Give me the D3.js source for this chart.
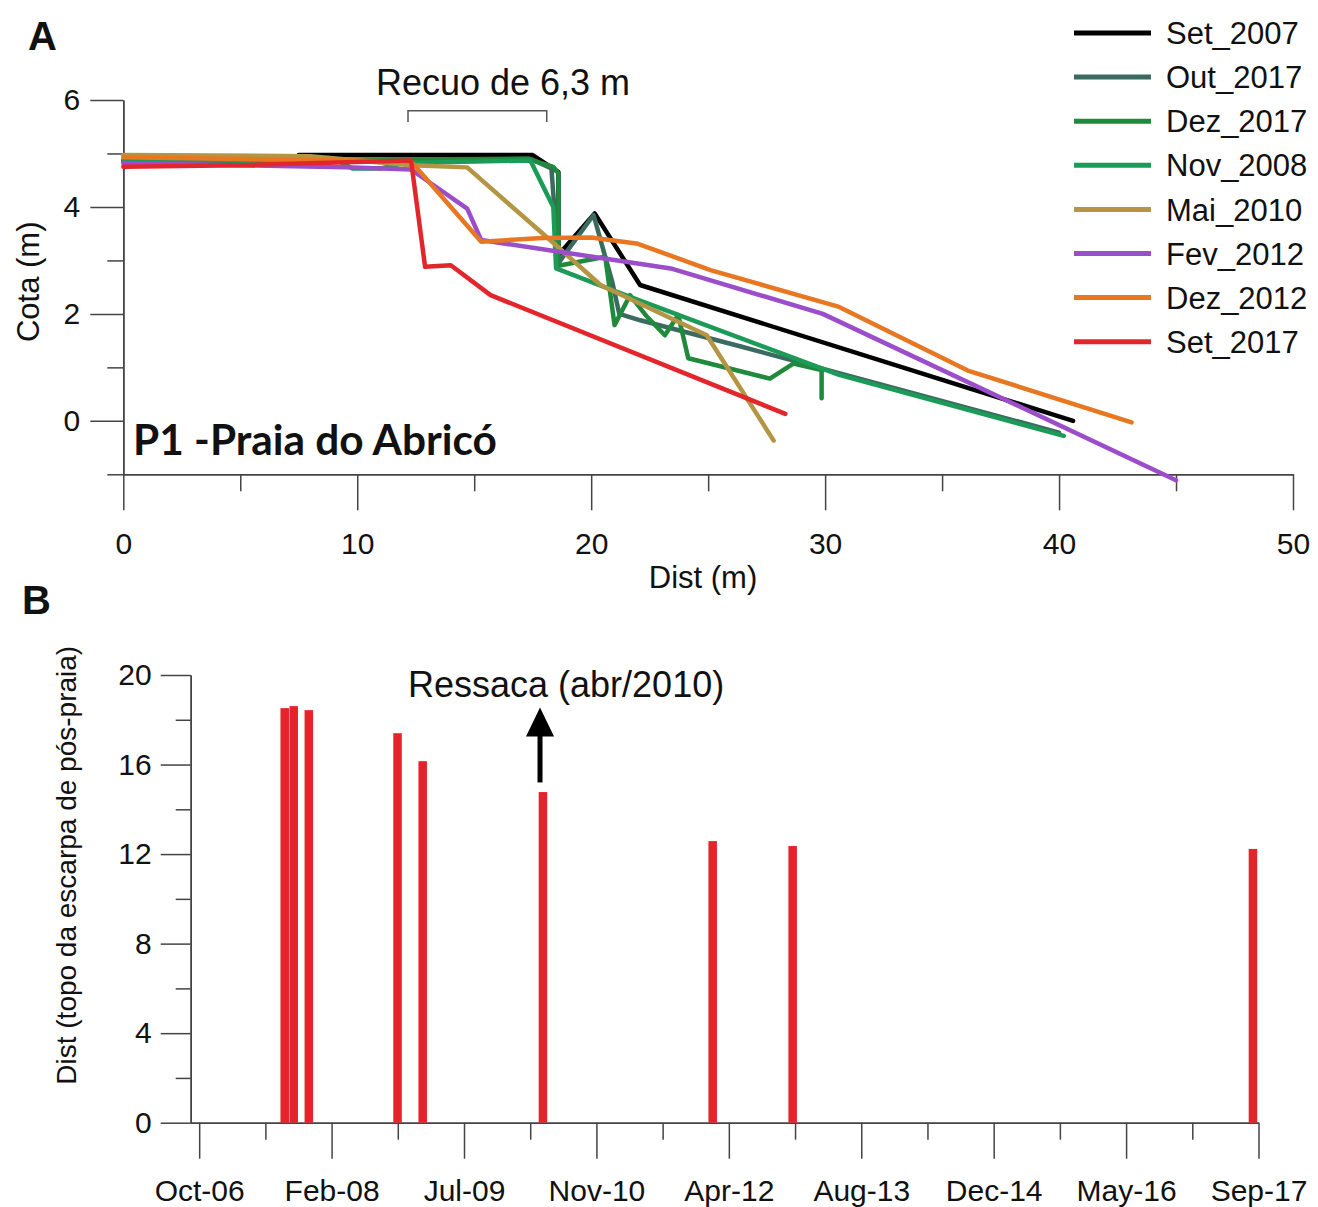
<!DOCTYPE html>
<html>
<head>
<meta charset="utf-8">
<script src="https://cdn.jsdelivr.net/npm/d3@7"></script>
<style>
  body { margin: 0; background: #fff; }
  svg { display: block; }
  text { font-family: "Liberation Sans", Arial, sans-serif; fill: #111; }
</style>
</head>
<body>
<script>
// ---- Panel A : beach profiles (dist m, cota m) ----
const set2007 = [[7.5,4.97],[17.5,4.97],[18.6,4.65],[18.6,3.1],[20.15,3.88],[22.09,2.54],[40.6,0.0]];
const out2017 = [[0,4.85],[17.4,4.9],[18.3,4.72],[18.6,2.95],[20.1,3.85],[20.9,2.6],[21.2,2.0],[22.1,1.88],[26.4,1.39],[40.0,-0.22]];
const dez2017 = [[0,4.87],[17.3,4.9],[18.38,4.75],[18.6,4.63],[18.6,2.9],[20.6,3.07],[21.0,1.79],[21.66,2.35],[22.38,1.95],[23.15,1.6],[23.72,1.98],[24.15,1.17],[27.64,0.79],[28.64,1.07],[29.85,0.95],[29.85,0.42]];
const nov2008 = [[0,4.88],[9.2,4.86],[9.8,4.72],[11.0,4.72],[12.0,4.82],[17.4,4.87],[18.38,4.0],[18.5,2.85],[21.66,2.32],[30.6,0.86],[40.2,-0.28]];
const mai2010 = [[0,4.97],[8,4.95],[12.3,4.78],[14.7,4.74],[18.4,3.32],[20.4,2.54],[24.94,1.6],[27.8,-0.37]];
const fev2012 = [[0,4.82],[9.5,4.74],[12.3,4.7],[14.7,3.97],[15.3,3.38],[23.4,2.85],[29.9,2.0],[45.0,-1.11]];
const dez2012 = [[0,4.93],[12.3,4.85],[15.3,3.35],[17.9,3.42],[20.0,3.43],[22.0,3.31],[25.1,2.82],[30.6,2.13],[36.1,0.94],[43.1,-0.03]];
const set2017 = [[0,4.75],[5,4.78],[12.3,4.87],[12.9,2.88],[14.0,2.91],[15.7,2.35],[28.3,0.13]];

const seriesNames = ["Set_2007","Out_2017","Dez_2017","Nov_2008","Mai_2010","Fev_2012","Dez_2012","Set_2017"];
const seriesData = [set2007, out2017, dez2017, nov2008, mai2010, fev2012, dez2012, set2017];
const seriesColors = ["#000000","#3b6a60","#1f8a3c","#1c9a57","#b39543","#9b4dca","#e87722","#e3262b"];

const distTicks = [0,10,20,30,40,50];
const distMinor = [5,15,25,35,45];
const cotaTicks = [0,2,4,6];
const cotaMinor = [-1,1,3,5];

// ---- Panel B : distance to top of backshore scarp ----
const surveyDates = ["2007-08-29","2007-10-02","2007-11-28","2008-10-28","2009-01-31","2010-04-30","2012-01-31","2012-11-28","2017-09-01"];
const scarpDist = [18.52, 18.61, 18.43, 17.4, 16.15, 14.77, 12.58, 12.36, 12.23];
const dateTicks = ["2006-10-10","2008-02-22","2009-07-06","2010-11-18","2012-04-01","2013-08-14","2014-12-27","2016-05-10","2017-09-22"];
const dateTickLabels = ["Oct-06","Feb-08","Jul-09","Nov-10","Apr-12","Aug-13","Dec-14","May-16","Sep-17"];
const distBTicks = [0,4,8,12,16,20];
const distBMinor = [2,6,10,14,18];

const parse = d3.timeParse("%Y-%m-%d");

const W = 1318, H = 1207;
const axisColor = "#444";

const svg = d3.select("body").append("svg")
    .attr("width", W)
    .attr("height", H);

function styleAxis(g, fontSize) {
    g.select(".domain").attr("stroke", axisColor).attr("stroke-width", 1.5);
    g.selectAll(".tick line").attr("stroke", axisColor).attr("stroke-width", 1.5);
    g.selectAll(".tick text").attr("font-size", fontSize).attr("fill", "#111")
        .attr("font-family", '"Liberation Sans", Arial, sans-serif');
}

// ================= Panel A =================
const xA = d3.scaleLinear([0, 50], [123.3, 1293]);
const yA = d3.scaleLinear([-1, 6], [474.3, 100]);

const xAaxis = svg.append("g").attr("transform", `translate(0,${yA(-1)})`);
xAaxis.call(d3.axisBottom(xA).tickValues(distTicks).tickSize(36).tickSizeOuter(0).tickPadding(22)
    .tickFormat(d3.format("d")));
styleAxis(xAaxis, 30);
const xAminor = svg.append("g").attr("transform", `translate(0,${yA(-1)})`);
xAminor.call(d3.axisBottom(xA).tickValues(distMinor).tickSize(17).tickSizeOuter(0).tickFormat(""));
styleAxis(xAminor, 30);

const yAaxis = svg.append("g").attr("transform", `translate(${xA(0)},0)`);
yAaxis.call(d3.axisLeft(yA).tickValues(cotaTicks).tickSize(33).tickSizeOuter(0).tickPadding(10)
    .tickFormat(d3.format("d")));
styleAxis(yAaxis, 30);
const yAminor = svg.append("g").attr("transform", `translate(${xA(0)},0)`);
yAminor.call(d3.axisLeft(yA).tickValues(cotaMinor).tickSize(16).tickSizeOuter(0).tickFormat(""));
styleAxis(yAminor, 30);

const lineA = d3.line().x(d => xA(d[0])).y(d => yA(d[1]));

svg.append("g")
    .selectAll("path")
    .data(seriesData)
    .join("path")
    .attr("d", lineA)
    .attr("fill", "none")
    .attr("stroke", (d, i) => seriesColors[i])
    .attr("stroke-width", 4.5)
    .attr("stroke-linejoin", "round")
    .attr("stroke-linecap", "round");

// axis titles
svg.append("text")
    .attr("x", 703).attr("y", 588)
    .attr("text-anchor", "middle")
    .attr("font-size", 31)
    .text("Dist (m)");

svg.append("text")
    .attr("transform", `translate(39,${yA(2.6)}) rotate(-90)`)
    .attr("text-anchor", "middle")
    .attr("font-size", 31)
    .text("Cota (m)");

// retreat bracket
const bracket = [[12.17,5.59],[12.17,5.8],[18.1,5.8],[18.1,5.59]];
svg.append("path")
    .attr("d", lineA(bracket))
    .attr("fill", "none")
    .attr("stroke", "#555")
    .attr("stroke-width", 1.5);

svg.append("text")
    .attr("x", 503).attr("y", 95)
    .attr("text-anchor", "middle")
    .attr("font-size", 36)
    .text("Recuo de 6,3 m");

// site label
const site = svg.append("text")
    .attr("x", 133).attr("y", 455)
    .attr("font-size", 40)
    .attr("font-weight", "bold")
    .style("font-family", "Lato, 'Open Sans', sans-serif")
    .text("P1 -Praia do Abricó");
const siteLen = site.node().getComputedTextLength();
site.attr("font-size", 40 * 364 / siteLen);

// panel letter
svg.append("text")
    .attr("x", 28).attr("y", 50)
    .attr("font-size", 40).attr("font-weight", "bold")
    .text("A");

// legend
const legend = svg.append("g");
const legRows = legend.selectAll("g")
    .data(seriesNames)
    .join("g")
    .attr("transform", (d, i) => `translate(0,${33 + i * 44.1})`);
legRows.append("line")
    .attr("x1", 1074).attr("x2", 1151)
    .attr("stroke", (d, i) => seriesColors[i])
    .attr("stroke-width", 5);
legRows.append("text")
    .attr("x", 1166)
    .attr("dy", "0.36em")
    .attr("font-size", 31)
    .text(d => d);

// ================= Panel B =================
const xB = d3.scaleTime([parse("2006-09-08"), parse("2017-09-22")], [190.7, 1258.5]);
const yB = d3.scaleLinear([0, 20], [1122.7, 675]);

const majorDates = dateTicks.map(parse);
const minorDates = majorDates.slice(0, -1).map(d => d3.timeDay.offset(d, 250));

const xBaxis = svg.append("g").attr("transform", `translate(0,${yB(0)})`);
xBaxis.call(d3.axisBottom(xB).tickValues(majorDates).tickSize(36).tickSizeOuter(0).tickPadding(21)
    .tickFormat((d, i) => dateTickLabels[i]));
styleAxis(xBaxis, 30);
const xBminor = svg.append("g").attr("transform", `translate(0,${yB(0)})`);
xBminor.call(d3.axisBottom(xB).tickValues(minorDates).tickSize(17).tickSizeOuter(0).tickFormat(""));
styleAxis(xBminor, 30);

const yBaxis = svg.append("g").attr("transform", `translate(${xB.range()[0]},0)`);
yBaxis.call(d3.axisLeft(yB).tickValues(distBTicks).tickSize(30).tickSizeOuter(0).tickPadding(9)
    .tickFormat(d3.format("d")));
styleAxis(yBaxis, 30);
const yBminor = svg.append("g").attr("transform", `translate(${xB.range()[0]},0)`);
yBminor.call(d3.axisLeft(yB).tickValues(distBMinor).tickSize(15).tickSizeOuter(0).tickFormat(""));
styleAxis(yBminor, 30);

const barW = 8.5;
svg.append("g")
    .selectAll("rect")
    .data(surveyDates)
    .join("rect")
    .attr("x", d => xB(parse(d)) - barW / 2)
    .attr("width", barW)
    .attr("y", (d, i) => yB(scarpDist[i]))
    .attr("height", (d, i) => yB(0) - yB(scarpDist[i]))
    .attr("fill", "#e4232a");

svg.append("text")
    .attr("transform", `translate(76,${yB(11.5)}) rotate(-90)`)
    .attr("text-anchor", "middle")
    .attr("font-size", 28)
    .text("Dist (topo da escarpa de pós-praia)");

// storm arrow
const stormDate = parse("2010-04-19");
const ax = xB(stormDate);
svg.append("line")
    .attr("x1", ax).attr("x2", ax)
    .attr("y1", yB(15.2)).attr("y2", yB(17.3))
    .attr("stroke", "#000").attr("stroke-width", 5);
svg.append("path")
    .attr("d", `M${ax},${yB(18.55)} L${ax - 14},${yB(17.25)} L${ax + 14},${yB(17.25)} Z`)
    .attr("fill", "#000");
svg.append("text")
    .attr("x", 408).attr("y", 697)
    .attr("font-size", 36)
    .text("Ressaca (abr/2010)");

svg.append("text")
    .attr("x", 22).attr("y", 614)
    .attr("font-size", 40).attr("font-weight", "bold")
    .text("B");
</script>
</body>
</html>
